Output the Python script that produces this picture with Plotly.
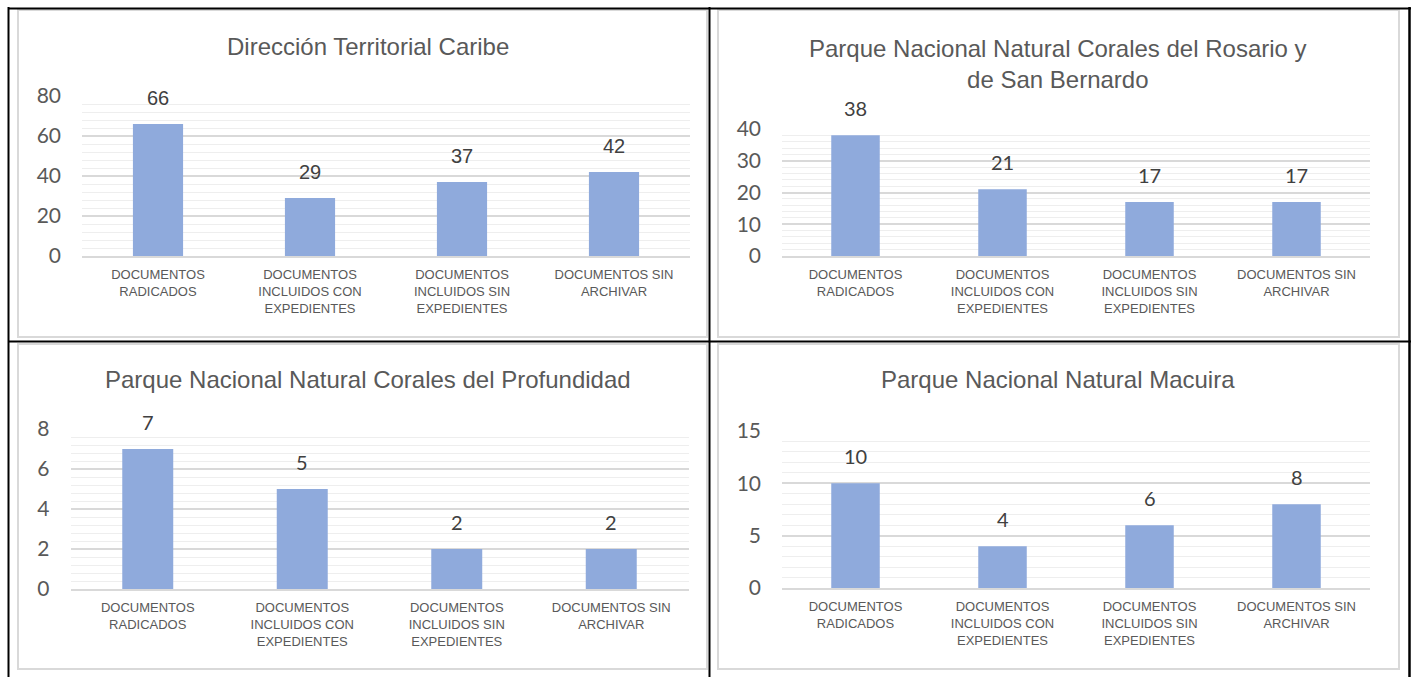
import plotly.graph_objects as go

W, H = 1413, 677

categories = [
    "DOCUMENTOS<br>RADICADOS",
    "DOCUMENTOS<br>INCLUIDOS CON<br>EXPEDIENTES",
    "DOCUMENTOS<br>INCLUIDOS SIN<br>EXPEDIENTES",
    "DOCUMENTOS SIN<br>ARCHIVAR",
]

titles = [
    "Dirección Territorial Caribe",
    "Parque Nacional Natural Corales del Rosario y<br>de San Bernardo",
    "Parque Nacional Natural Corales del Profundidad",
    "Parque Nacional Natural Macuira",
]

values_caribe = [66, 29, 37, 42]
values_rosario = [38, 21, 17, 17]
values_profundidad = [7, 5, 2, 2]
values_macuira = [10, 4, 6, 8]

y_max = [80, 40, 8, 15]
y_dtick = [20, 10, 2, 5]

series = [values_caribe, values_rosario, values_profundidad, values_macuira]

# pixel geometry (layout only)
plot_boxes = [  # x0, x1, y_top(at max), y_bottom(at 0)
    (82, 690, 96, 256),
    (782, 1370, 129, 256),
    (70.5, 688.5, 429, 589),
    (782, 1370, 431, 588),
]
title_pos = [(368, 47), (1058, 64), (368, 380), (1058, 380)]
chart_frames = [(18, 707, 10, 337), (718, 1399, 10, 337), (18, 707, 344, 669), (718, 1399, 344, 669)]

BAR = "#8FAADC"
TXT = "#595959"
SANS = "Liberation Sans, Arial, sans-serif"
CAL = "Lato, Carlito, Calibri, sans-serif"

fig = go.Figure()
layout = dict(
    width=W, height=H,
    margin=dict(l=0, r=0, t=0, b=0, pad=0, autoexpand=False),
    paper_bgcolor="white", plot_bgcolor="white",
    showlegend=False,
)
annotations = []
shapes = []

def px(x):
    return x / W

def py(y):
    return 1 - y / H

for i, vals in enumerate(series):
    n = "" if i == 0 else str(i + 1)
    xa, ya = "x" + n, "y" + n
    fig.add_trace(go.Bar(
        x=list(range(len(categories))), y=vals, xaxis=xa, yaxis=ya,
        marker=dict(color=BAR, line=dict(width=0)), width=0.33,
        hoverinfo="skip",
    ))
    x0, x1, yt, yb = plot_boxes[i]
    layout["xaxis" + n] = dict(
        domain=[px(x0), px(x1)], anchor=ya, range=[-0.5, 3.5],
        tickmode="array", tickvals=list(range(len(categories))), ticktext=categories,
        tickfont=dict(family=SANS, size=13, color=TXT),
        showgrid=False, zeroline=False, showline=True, linecolor="#D9D9D9", linewidth=1.5,
        ticks="", ticklabelstandoff=6, fixedrange=True, automargin=False,
    )
    layout["yaxis" + n] = dict(
        domain=[py(yb), py(yt)], anchor=xa, range=[0, y_max[i]],
        dtick=y_dtick[i], tick0=0,
        tickfont=dict(family=CAL, size=21, color=TXT),
        showgrid=True, gridcolor="#D9D9D9", gridwidth=1.5,
        minor=dict(dtick=y_dtick[i] / 5, showgrid=True, gridcolor="#EEEEEE", gridwidth=1),
        zeroline=False, showline=False, ticks="", ticklabelstandoff=20, fixedrange=True,
        automargin=False,
    )
    lab_font = dict(family=SANS if i == 0 else CAL, size=20, color="#404040")
    for j, v in enumerate(vals):
        annotations.append(dict(
            x=j, y=v, xref=xa, yref=ya, text=str(v), showarrow=False,
            yanchor="bottom", yshift=13, font=lab_font,
        ))
    tx, ty = title_pos[i]
    annotations.append(dict(
        x=px(tx), y=py(ty), xref="paper", yref="paper", text=titles[i], showarrow=False,
        xanchor="center", yanchor="middle",
        font=dict(family=SANS, size=24, color=TXT),
    ))
    fx0, fx1, fy0, fy1 = chart_frames[i]
    shapes.append(dict(type="rect", xref="paper", yref="paper",
                       x0=px(fx0), x1=px(fx1), y0=py(fy1), y1=py(fy0),
                       line=dict(color="#D9D9D9", width=2), layer="below"))

# table borders
for (a, b, c, d) in [(8, 8.5, 1411, 8.5), (8.5, 7, 8.5, 677), (709.5, 7, 709.5, 677),
                     (1409.5, 7, 1409.5, 677), (8, 341.5, 1411, 341.5)]:
    shapes.append(dict(type="line", xref="paper", yref="paper",
                       x0=px(a), y0=py(b), x1=px(c), y1=py(d),
                       line=dict(color="black", width=2.5 if a > 1400 else 2)))

layout["annotations"] = annotations
layout["shapes"] = shapes
fig.update_layout(**layout)
fig.write_html(
    "out.html",
    config={"displayModeBar": False, "responsive": False},
    post_script="document.body.style.margin='0';document.body.style.overflow='hidden';",
)
